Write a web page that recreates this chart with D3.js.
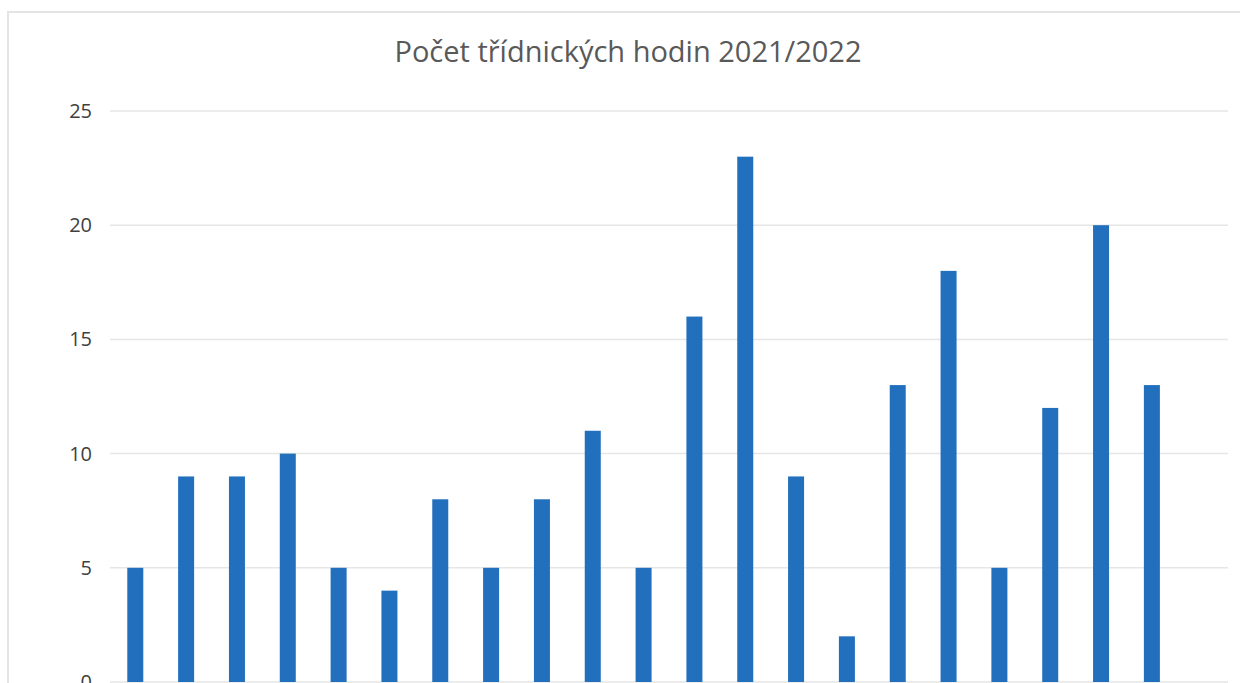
<html>
<head>
<meta charset="utf-8">
<script src="https://d3js.org/d3.v7.min.js"></script>
<style>
  body { margin:0; background:#fff; }
  svg { display:block; }
  .title { font-family:"Open Sans", sans-serif; font-size:29px; fill:#595959; }
  .tick text { font-family:"Open Sans", sans-serif; font-size:20px; fill:#404040; }
</style>
</head>
<body>
<svg id="plot"></svg>
<script>

// chart data
var title = "Počet třídnických hodin 2021/2022";
var classes = ["1","2","3","4","5","6","7","8","9","10","11",
               "12","13","14","15","16","17","18","19","20","21","22"];
var hours = [5,9,9,10,5,4,8,5,8,11,5,16,23,9,2,13,18,5,12,20,13,null];
var yTicks = [0,5,10,15,20,25];

var screen = {width:1240, height:683};
var margins = {top:111, bottom:1, left:110, right:12};

var graph =
{
    width:screen.width-margins.left-margins.right,
    height:screen.height-margins.top-margins.bottom
};

var svg = d3.select("#plot")
    .attr("width",screen.width)
    .attr("height",screen.height);

//faint frame of the scanned chart
svg.append("path")
    .attr("d","M8,683 L8,12 L1240,12")
    .attr("fill","none")
    .attr("stroke","#e4e4e4")
    .attr("stroke-width",2);

var xScale = d3.scaleBand()
    .domain(classes)
    .range([0,graph.width])
    .paddingInner(0.685)
    .paddingOuter(0.34);

var yScale = d3.scaleLinear()
    .domain([0,25])
    .range([graph.height,0]);

var g = svg.append("g")
    .attr("transform","translate("+margins.left+","+margins.top+")");

//grid lines
g.selectAll("line.grid")
    .data(yTicks)
    .enter()
    .append("line")
    .classed("grid",true)
    .attr("x1",0)
    .attr("x2",graph.width)
    .attr("y1",function(d){ return yScale(d);})
    .attr("y2",function(d){ return yScale(d);})
    .attr("stroke","#e6e6e6")
    .attr("stroke-width",1.5);

//y axis labels
var yAxis = d3.axisLeft(yScale)
    .tickValues(yTicks)
    .tickSize(0)
    .tickPadding(18);

g.append("g")
    .call(yAxis)
    .call(function(a){ a.select(".domain").remove(); });

//bars
g.selectAll("rect")
    .data(hours.map(function(v,i){ return {c:classes[i], v:v}; })
                .filter(function(d){ return d.v !== null; }))
    .enter()
    .append("rect")
    .attr("x",function(d){ return xScale(d.c);})
    .attr("width",xScale.bandwidth())
    .attr("y",function(d){ return yScale(d.v);})
    .attr("height",function(d){ return graph.height-yScale(d.v);})
    .attr("fill","#2270bd");

//title
svg.append("text")
    .classed("title",true)
    .attr("x",628)
    .attr("y",62)
    .attr("text-anchor","middle")
    .text(title);

</script>
</body>
</html>
